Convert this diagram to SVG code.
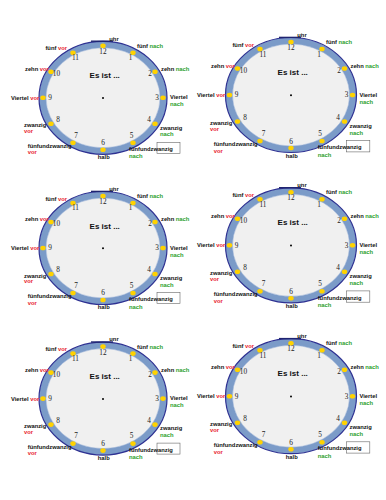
<svg xmlns="http://www.w3.org/2000/svg" width="386" height="500" viewBox="0 0 386 500">
<style>
.ring{fill:#7b9bc8;stroke:#2e3192;stroke-width:1.2}
.face{fill:#f0f0f0;stroke:#9fb5d8;stroke-width:0.5}
.bar{stroke:#1f2470;stroke-width:1.4}
.dot{fill:#ffd200}
.num{font-family:"Liberation Serif","Times New Roman",serif;font-size:7.3px;fill:#222;text-anchor:middle}
.title{font-family:"Liberation Sans",Arial,sans-serif;font-size:8px;font-weight:bold;fill:#111;text-anchor:middle}
.lbl{font-family:"Liberation Sans",Arial,sans-serif;font-size:5.8px;font-weight:bold;fill:#111}
.v{fill:#e8202a}
.n{fill:#2ca02c}
.box{fill:#fff;stroke:#666;stroke-width:0.6}
</style>
<defs>
<clipPath id="uc" clipPathUnits="userSpaceOnUse"><rect x="0" y="-60.6" width="25" height="10"/></clipPath>
<clipPath id="uc2" clipPathUnits="userSpaceOnUse"><rect x="0" y="-61.6" width="25" height="10"/></clipPath>
</defs>
<rect width="386" height="500" fill="#fff"/>

<g id="clock1" transform="translate(103,97.8)">
<ellipse class="ring" rx="64" ry="56.5"/>
<ellipse class="face" rx="57" ry="50"/>
<line class="bar" x1="-12" y1="-56.6" x2="10" y2="-56.6"/>
<ellipse class="dot" cx="0" cy="-52" rx="2.7" ry="2.3"/><ellipse class="dot" cx="30" cy="-45" rx="2.7" ry="2.3"/><ellipse class="dot" cx="52" cy="-26" rx="2.7" ry="2.3"/><ellipse class="dot" cx="60" cy="0" rx="2.7" ry="2.3"/><ellipse class="dot" cx="52" cy="26" rx="2.7" ry="2.3"/><ellipse class="dot" cx="30" cy="45" rx="2.7" ry="2.3"/><ellipse class="dot" cx="0" cy="52" rx="2.7" ry="2.3"/><ellipse class="dot" cx="-30" cy="45" rx="2.7" ry="2.3"/><ellipse class="dot" cx="-52" cy="26" rx="2.7" ry="2.3"/><ellipse class="dot" cx="-60" cy="0" rx="2.7" ry="2.3"/><ellipse class="dot" cx="-52" cy="-26" rx="2.7" ry="2.3"/><ellipse class="dot" cx="-30" cy="-45" rx="2.7" ry="2.3"/>
<text class="num" x="0" y="-44">12</text><text class="num" x="27.5" y="-37.6">1</text><text class="num" x="47" y="-21.6">2</text><text class="num" x="54" y="2.4">3</text><text class="num" x="46" y="24.4">4</text><text class="num" x="28.5" y="39.9">5</text><text class="num" x="0" y="47.4">6</text><text class="num" x="-27" y="39.9">7</text><text class="num" x="-45" y="24.4">8</text><text class="num" x="-53" y="2.4">9</text><text class="num" x="-46.5" y="-21.6">10</text><text class="num" x="-27.5" y="-37.6">11</text>
<circle r="1" cy="0.3" fill="#000"/>
<text class="title" x="1.7" y="-19.5">Es ist ...</text>
<text class="lbl" x="-36" y="-47.5" text-anchor="end">fünf <tspan class="v">vor</tspan></text>
<text class="lbl" x="34" y="-50">fünf <tspan class="n">nach</tspan></text>
<text class="lbl" x="-78" y="-27">zehn <tspan class="v">vor</tspan></text>
<text class="lbl" x="58" y="-27">zehn <tspan class="n">nach</tspan></text>
<text class="lbl" x="-92" y="2">Viertel <tspan class="v">vor</tspan></text>
<text class="lbl" x="67" y="1.5">Viertel</text><text class="lbl n" x="67" y="8.5">nach</text>
<text class="lbl" x="-79" y="29.5">zwanzig</text><text class="lbl v" x="-79" y="35.3">vor</text>
<text class="lbl" x="57" y="31.8">zwanzig</text><text class="lbl n" x="57" y="38.6">nach</text>
<rect class="box" x="54" y="44.5" width="23" height="11"/>
<text class="lbl" x="-75.3" y="50">fünfundzwanzig</text><text class="lbl v" x="-75.3" y="56.5">vor</text>
<text class="lbl" x="0.7" y="61" text-anchor="middle">halb</text>
<text class="lbl" x="26" y="53">fünfundzwanzig</text><text class="lbl n" x="26" y="60.5">nach</text>
<text class="lbl" x="11" y="-57.3" text-anchor="middle" clip-path="url(#uc)">uhr</text>
</g>

<g id="clock2" transform="translate(291,95)">
<ellipse class="ring" rx="65.5" ry="57.5"/>
<ellipse class="face" rx="58.5" ry="51"/>
<line class="bar" x1="-12" y1="-57.6" x2="10" y2="-57.6"/>
<ellipse class="dot" cx="0" cy="-53" rx="2.7" ry="2.3"/><ellipse class="dot" cx="31" cy="-46" rx="2.7" ry="2.3"/><ellipse class="dot" cx="53.5" cy="-26.5" rx="2.7" ry="2.3"/><ellipse class="dot" cx="61.5" cy="0" rx="2.7" ry="2.3"/><ellipse class="dot" cx="53.5" cy="26.5" rx="2.7" ry="2.3"/><ellipse class="dot" cx="31" cy="46" rx="2.7" ry="2.3"/><ellipse class="dot" cx="0" cy="53" rx="2.7" ry="2.3"/><ellipse class="dot" cx="-31" cy="46" rx="2.7" ry="2.3"/><ellipse class="dot" cx="-53.5" cy="26.5" rx="2.7" ry="2.3"/><ellipse class="dot" cx="-61.5" cy="0" rx="2.7" ry="2.3"/><ellipse class="dot" cx="-53.5" cy="-26.5" rx="2.7" ry="2.3"/><ellipse class="dot" cx="-31" cy="-46" rx="2.7" ry="2.3"/>
<text class="num" x="0" y="-45">12</text><text class="num" x="28" y="-38.5">1</text><text class="num" x="48" y="-22">2</text><text class="num" x="55.5" y="2.4">3</text><text class="num" x="47" y="25">4</text><text class="num" x="29" y="40.8">5</text><text class="num" x="0" y="48.5">6</text><text class="num" x="-27.5" y="40.8">7</text><text class="num" x="-46" y="25">8</text><text class="num" x="-54.5" y="2.4">9</text><text class="num" x="-47.5" y="-22">10</text><text class="num" x="-28" y="-38.5">11</text>
<circle r="1" cy="0.3" fill="#000"/>
<text class="title" x="1.7" y="-20">Es ist ...</text>
<text class="lbl" x="-37" y="-48.5" text-anchor="end">fünf <tspan class="v">vor</tspan></text>
<text class="lbl" x="35" y="-51">fünf <tspan class="n">nach</tspan></text>
<text class="lbl" x="-80" y="-27.5">zehn <tspan class="v">vor</tspan></text>
<text class="lbl" x="59.5" y="-27.5">zehn <tspan class="n">nach</tspan></text>
<text class="lbl" x="-94" y="2">Viertel <tspan class="v">vor</tspan></text>
<text class="lbl" x="68.5" y="1.5">Viertel</text><text class="lbl n" x="68.5" y="8.7">nach</text>
<text class="lbl" x="-81" y="30.2">zwanzig</text><text class="lbl v" x="-81" y="36.2">vor</text>
<text class="lbl" x="58.5" y="32.6">zwanzig</text><text class="lbl n" x="58.5" y="39.6">nach</text>
<rect class="box" x="55.3" y="45.6" width="23.5" height="11.3"/>
<text class="lbl" x="-77.2" y="51.2">fünfundzwanzig</text><text class="lbl v" x="-77.2" y="57.9">vor</text>
<text class="lbl" x="0.7" y="62.5" text-anchor="middle">halb</text>
<text class="lbl" x="26.7" y="54.3">fünfundzwanzig</text><text class="lbl n" x="26.7" y="62">nach</text>
<text class="lbl" x="11" y="-58.3" text-anchor="middle" clip-path="url(#uc2)">uhr</text>
</g>

<g id="clock3" transform="translate(103,248)">
<ellipse class="ring" rx="64" ry="56.5"/>
<ellipse class="face" rx="57" ry="50"/>
<line class="bar" x1="-12" y1="-56.6" x2="10" y2="-56.6"/>
<ellipse class="dot" cx="0" cy="-52" rx="2.7" ry="2.3"/><ellipse class="dot" cx="30" cy="-45" rx="2.7" ry="2.3"/><ellipse class="dot" cx="52" cy="-26" rx="2.7" ry="2.3"/><ellipse class="dot" cx="60" cy="0" rx="2.7" ry="2.3"/><ellipse class="dot" cx="52" cy="26" rx="2.7" ry="2.3"/><ellipse class="dot" cx="30" cy="45" rx="2.7" ry="2.3"/><ellipse class="dot" cx="0" cy="52" rx="2.7" ry="2.3"/><ellipse class="dot" cx="-30" cy="45" rx="2.7" ry="2.3"/><ellipse class="dot" cx="-52" cy="26" rx="2.7" ry="2.3"/><ellipse class="dot" cx="-60" cy="0" rx="2.7" ry="2.3"/><ellipse class="dot" cx="-52" cy="-26" rx="2.7" ry="2.3"/><ellipse class="dot" cx="-30" cy="-45" rx="2.7" ry="2.3"/>
<text class="num" x="0" y="-44">12</text><text class="num" x="27.5" y="-37.6">1</text><text class="num" x="47" y="-21.6">2</text><text class="num" x="54" y="2.4">3</text><text class="num" x="46" y="24.4">4</text><text class="num" x="28.5" y="39.9">5</text><text class="num" x="0" y="47.4">6</text><text class="num" x="-27" y="39.9">7</text><text class="num" x="-45" y="24.4">8</text><text class="num" x="-53" y="2.4">9</text><text class="num" x="-46.5" y="-21.6">10</text><text class="num" x="-27.5" y="-37.6">11</text>
<circle r="1" cy="0.3" fill="#000"/>
<text class="title" x="1.7" y="-19.5">Es ist ...</text>
<text class="lbl" x="-36" y="-47.5" text-anchor="end">fünf <tspan class="v">vor</tspan></text>
<text class="lbl" x="34" y="-50">fünf <tspan class="n">nach</tspan></text>
<text class="lbl" x="-78" y="-27">zehn <tspan class="v">vor</tspan></text>
<text class="lbl" x="58" y="-27">zehn <tspan class="n">nach</tspan></text>
<text class="lbl" x="-92" y="2">Viertel <tspan class="v">vor</tspan></text>
<text class="lbl" x="67" y="1.5">Viertel</text><text class="lbl n" x="67" y="8.5">nach</text>
<text class="lbl" x="-79" y="29.5">zwanzig</text><text class="lbl v" x="-79" y="35.3">vor</text>
<text class="lbl" x="57" y="31.8">zwanzig</text><text class="lbl n" x="57" y="38.6">nach</text>
<rect class="box" x="54" y="44.5" width="23" height="11"/>
<text class="lbl" x="-75.3" y="50">fünfundzwanzig</text><text class="lbl v" x="-75.3" y="56.5">vor</text>
<text class="lbl" x="0.7" y="61" text-anchor="middle">halb</text>
<text class="lbl" x="26" y="53">fünfundzwanzig</text><text class="lbl n" x="26" y="60.5">nach</text>
<text class="lbl" x="11" y="-57.3" text-anchor="middle" clip-path="url(#uc)">uhr</text>
</g>

<g id="clock4" transform="translate(291,245.3)">
<ellipse class="ring" rx="65.5" ry="57.5"/>
<ellipse class="face" rx="58.5" ry="51"/>
<line class="bar" x1="-12" y1="-57.6" x2="10" y2="-57.6"/>
<ellipse class="dot" cx="0" cy="-53" rx="2.7" ry="2.3"/><ellipse class="dot" cx="31" cy="-46" rx="2.7" ry="2.3"/><ellipse class="dot" cx="53.5" cy="-26.5" rx="2.7" ry="2.3"/><ellipse class="dot" cx="61.5" cy="0" rx="2.7" ry="2.3"/><ellipse class="dot" cx="53.5" cy="26.5" rx="2.7" ry="2.3"/><ellipse class="dot" cx="31" cy="46" rx="2.7" ry="2.3"/><ellipse class="dot" cx="0" cy="53" rx="2.7" ry="2.3"/><ellipse class="dot" cx="-31" cy="46" rx="2.7" ry="2.3"/><ellipse class="dot" cx="-53.5" cy="26.5" rx="2.7" ry="2.3"/><ellipse class="dot" cx="-61.5" cy="0" rx="2.7" ry="2.3"/><ellipse class="dot" cx="-53.5" cy="-26.5" rx="2.7" ry="2.3"/><ellipse class="dot" cx="-31" cy="-46" rx="2.7" ry="2.3"/>
<text class="num" x="0" y="-45">12</text><text class="num" x="28" y="-38.5">1</text><text class="num" x="48" y="-22">2</text><text class="num" x="55.5" y="2.4">3</text><text class="num" x="47" y="25">4</text><text class="num" x="29" y="40.8">5</text><text class="num" x="0" y="48.5">6</text><text class="num" x="-27.5" y="40.8">7</text><text class="num" x="-46" y="25">8</text><text class="num" x="-54.5" y="2.4">9</text><text class="num" x="-47.5" y="-22">10</text><text class="num" x="-28" y="-38.5">11</text>
<circle r="1" cy="0.3" fill="#000"/>
<text class="title" x="1.7" y="-20">Es ist ...</text>
<text class="lbl" x="-37" y="-48.5" text-anchor="end">fünf <tspan class="v">vor</tspan></text>
<text class="lbl" x="35" y="-51">fünf <tspan class="n">nach</tspan></text>
<text class="lbl" x="-80" y="-27.5">zehn <tspan class="v">vor</tspan></text>
<text class="lbl" x="59.5" y="-27.5">zehn <tspan class="n">nach</tspan></text>
<text class="lbl" x="-94" y="2">Viertel <tspan class="v">vor</tspan></text>
<text class="lbl" x="68.5" y="1.5">Viertel</text><text class="lbl n" x="68.5" y="8.7">nach</text>
<text class="lbl" x="-81" y="30.2">zwanzig</text><text class="lbl v" x="-81" y="36.2">vor</text>
<text class="lbl" x="58.5" y="32.6">zwanzig</text><text class="lbl n" x="58.5" y="39.6">nach</text>
<rect class="box" x="55.3" y="45.6" width="23.5" height="11.3"/>
<text class="lbl" x="-77.2" y="51.2">fünfundzwanzig</text><text class="lbl v" x="-77.2" y="57.9">vor</text>
<text class="lbl" x="0.7" y="62.5" text-anchor="middle">halb</text>
<text class="lbl" x="26.7" y="54.3">fünfundzwanzig</text><text class="lbl n" x="26.7" y="62">nach</text>
<text class="lbl" x="11" y="-58.3" text-anchor="middle" clip-path="url(#uc2)">uhr</text>
</g>

<g id="clock5" transform="translate(103,398.6)">
<ellipse class="ring" rx="64" ry="56.5"/>
<ellipse class="face" rx="57" ry="50"/>
<line class="bar" x1="-12" y1="-56.6" x2="10" y2="-56.6"/>
<ellipse class="dot" cx="0" cy="-52" rx="2.7" ry="2.3"/><ellipse class="dot" cx="30" cy="-45" rx="2.7" ry="2.3"/><ellipse class="dot" cx="52" cy="-26" rx="2.7" ry="2.3"/><ellipse class="dot" cx="60" cy="0" rx="2.7" ry="2.3"/><ellipse class="dot" cx="52" cy="26" rx="2.7" ry="2.3"/><ellipse class="dot" cx="30" cy="45" rx="2.7" ry="2.3"/><ellipse class="dot" cx="0" cy="52" rx="2.7" ry="2.3"/><ellipse class="dot" cx="-30" cy="45" rx="2.7" ry="2.3"/><ellipse class="dot" cx="-52" cy="26" rx="2.7" ry="2.3"/><ellipse class="dot" cx="-60" cy="0" rx="2.7" ry="2.3"/><ellipse class="dot" cx="-52" cy="-26" rx="2.7" ry="2.3"/><ellipse class="dot" cx="-30" cy="-45" rx="2.7" ry="2.3"/>
<text class="num" x="0" y="-44">12</text><text class="num" x="27.5" y="-37.6">1</text><text class="num" x="47" y="-21.6">2</text><text class="num" x="54" y="2.4">3</text><text class="num" x="46" y="24.4">4</text><text class="num" x="28.5" y="39.9">5</text><text class="num" x="0" y="47.4">6</text><text class="num" x="-27" y="39.9">7</text><text class="num" x="-45" y="24.4">8</text><text class="num" x="-53" y="2.4">9</text><text class="num" x="-46.5" y="-21.6">10</text><text class="num" x="-27.5" y="-37.6">11</text>
<circle r="1" cy="0.3" fill="#000"/>
<text class="title" x="1.7" y="-19.5">Es ist ...</text>
<text class="lbl" x="-36" y="-47.5" text-anchor="end">fünf <tspan class="v">vor</tspan></text>
<text class="lbl" x="34" y="-50">fünf <tspan class="n">nach</tspan></text>
<text class="lbl" x="-78" y="-27">zehn <tspan class="v">vor</tspan></text>
<text class="lbl" x="58" y="-27">zehn <tspan class="n">nach</tspan></text>
<text class="lbl" x="-92" y="2">Viertel <tspan class="v">vor</tspan></text>
<text class="lbl" x="67" y="1.5">Viertel</text><text class="lbl n" x="67" y="8.5">nach</text>
<text class="lbl" x="-79" y="29.5">zwanzig</text><text class="lbl v" x="-79" y="35.3">vor</text>
<text class="lbl" x="57" y="31.8">zwanzig</text><text class="lbl n" x="57" y="38.6">nach</text>
<rect class="box" x="54" y="44.5" width="23" height="11"/>
<text class="lbl" x="-75.3" y="50">fünfundzwanzig</text><text class="lbl v" x="-75.3" y="56.5">vor</text>
<text class="lbl" x="0.7" y="61" text-anchor="middle">halb</text>
<text class="lbl" x="26" y="53">fünfundzwanzig</text><text class="lbl n" x="26" y="60.5">nach</text>
<text class="lbl" x="11" y="-57.3" text-anchor="middle" clip-path="url(#uc)">uhr</text>
</g>

<g id="clock6" transform="translate(291,396.2)">
<ellipse class="ring" rx="65.5" ry="57.5"/>
<ellipse class="face" rx="58.5" ry="51"/>
<line class="bar" x1="-12" y1="-57.6" x2="10" y2="-57.6"/>
<ellipse class="dot" cx="0" cy="-53" rx="2.7" ry="2.3"/><ellipse class="dot" cx="31" cy="-46" rx="2.7" ry="2.3"/><ellipse class="dot" cx="53.5" cy="-26.5" rx="2.7" ry="2.3"/><ellipse class="dot" cx="61.5" cy="0" rx="2.7" ry="2.3"/><ellipse class="dot" cx="53.5" cy="26.5" rx="2.7" ry="2.3"/><ellipse class="dot" cx="31" cy="46" rx="2.7" ry="2.3"/><ellipse class="dot" cx="0" cy="53" rx="2.7" ry="2.3"/><ellipse class="dot" cx="-31" cy="46" rx="2.7" ry="2.3"/><ellipse class="dot" cx="-53.5" cy="26.5" rx="2.7" ry="2.3"/><ellipse class="dot" cx="-61.5" cy="0" rx="2.7" ry="2.3"/><ellipse class="dot" cx="-53.5" cy="-26.5" rx="2.7" ry="2.3"/><ellipse class="dot" cx="-31" cy="-46" rx="2.7" ry="2.3"/>
<text class="num" x="0" y="-45">12</text><text class="num" x="28" y="-38.5">1</text><text class="num" x="48" y="-22">2</text><text class="num" x="55.5" y="2.4">3</text><text class="num" x="47" y="25">4</text><text class="num" x="29" y="40.8">5</text><text class="num" x="0" y="48.5">6</text><text class="num" x="-27.5" y="40.8">7</text><text class="num" x="-46" y="25">8</text><text class="num" x="-54.5" y="2.4">9</text><text class="num" x="-47.5" y="-22">10</text><text class="num" x="-28" y="-38.5">11</text>
<circle r="1" cy="0.3" fill="#000"/>
<text class="title" x="1.7" y="-20">Es ist ...</text>
<text class="lbl" x="-37" y="-48.5" text-anchor="end">fünf <tspan class="v">vor</tspan></text>
<text class="lbl" x="35" y="-51">fünf <tspan class="n">nach</tspan></text>
<text class="lbl" x="-80" y="-27.5">zehn <tspan class="v">vor</tspan></text>
<text class="lbl" x="59.5" y="-27.5">zehn <tspan class="n">nach</tspan></text>
<text class="lbl" x="-94" y="2">Viertel <tspan class="v">vor</tspan></text>
<text class="lbl" x="68.5" y="1.5">Viertel</text><text class="lbl n" x="68.5" y="8.7">nach</text>
<text class="lbl" x="-81" y="30.2">zwanzig</text><text class="lbl v" x="-81" y="36.2">vor</text>
<text class="lbl" x="58.5" y="32.6">zwanzig</text><text class="lbl n" x="58.5" y="39.6">nach</text>
<rect class="box" x="55.3" y="45.6" width="23.5" height="11.3"/>
<text class="lbl" x="-77.2" y="51.2">fünfundzwanzig</text><text class="lbl v" x="-77.2" y="57.9">vor</text>
<text class="lbl" x="0.7" y="62.5" text-anchor="middle">halb</text>
<text class="lbl" x="26.7" y="54.3">fünfundzwanzig</text><text class="lbl n" x="26.7" y="62">nach</text>
<text class="lbl" x="11" y="-58.3" text-anchor="middle" clip-path="url(#uc2)">uhr</text>
</g>
</svg>
